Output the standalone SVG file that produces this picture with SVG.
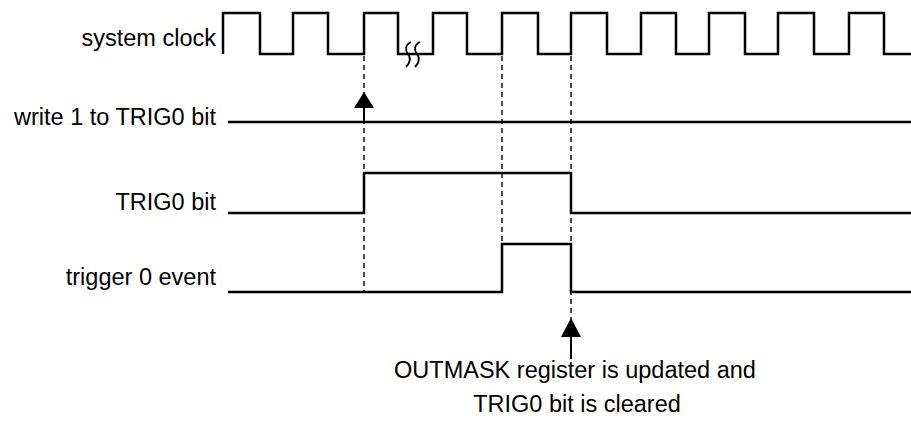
<svg xmlns="http://www.w3.org/2000/svg" width="911" height="421" viewBox="0 0 911 421">
<style>
.sig{fill:none;stroke:#000;stroke-width:2.5;stroke-linejoin:miter}
.dash{fill:none;stroke:#000;stroke-width:1.4;stroke-dasharray:5,4}
.lbl{font-family:"Liberation Sans",Arial,sans-serif;font-size:23.5px;fill:#000}
.arr{fill:#000}
.stem{stroke:#000;stroke-width:2}
.brk{fill:none;stroke:#000;stroke-width:1.8}
</style>
<rect width="911" height="421" fill="#fff"/>
<g id="connectors">
<line class="dash" x1="364" y1="56" x2="364" y2="292"/>
<line class="dash" x1="502" y1="56" x2="502" y2="244"/>
<line class="dash" x1="571" y1="56" x2="571" y2="320"/>
</g>
<g id="clock">
<text class="lbl" x="216" y="46" text-anchor="end">system clock</text>
<path class="sig" d="M223,54 V13 H260 V54 H293 V13 H328 V54 H364 V13 H398 V54 H433 V13 H467 V54 H502 V13 H538 V54 H571 V13 H607 V54 H641 V13 H676 V54 H709 V13 H745 V54 H778 V13 H814 V54 H849 V13 H884 V54 H911"/>
<path class="brk" d="M411,42 C405,45 405,50 408,54 C411,58 411,62 406,67"/>
<path class="brk" d="M420,42 C414,45 414,50 417,54 C420,58 420,62 415,67"/>
</g>
<g id="write">
<text class="lbl" x="216" y="125" text-anchor="end">write 1 to TRIG0 bit</text>
<path class="sig" d="M228,122 H911"/>
<line class="stem" x1="364" y1="106" x2="364" y2="122"/>
<polygon class="arr" points="364,92 354,108 374,108"/>
</g>
<g id="trig0">
<text class="lbl" x="216" y="210" text-anchor="end">TRIG0 bit</text>
<path class="sig" d="M228,213 H364 V173 H571 V213 H911"/>
</g>
<g id="event">
<text class="lbl" x="216" y="285" text-anchor="end">trigger 0 event</text>
<path class="sig" d="M228,292 H502 V244 H571 V292 H911"/>
</g>
<g id="note">
<polygon class="arr" points="571,318 561,337 581,337"/>
<line class="stem" x1="571" y1="336" x2="571" y2="359"/>
<text class="lbl" x="575" y="378" text-anchor="middle">OUTMASK register is updated and</text>
<text class="lbl" x="577" y="412" text-anchor="middle">TRIG0 bit is cleared</text>
</g>
</svg>
